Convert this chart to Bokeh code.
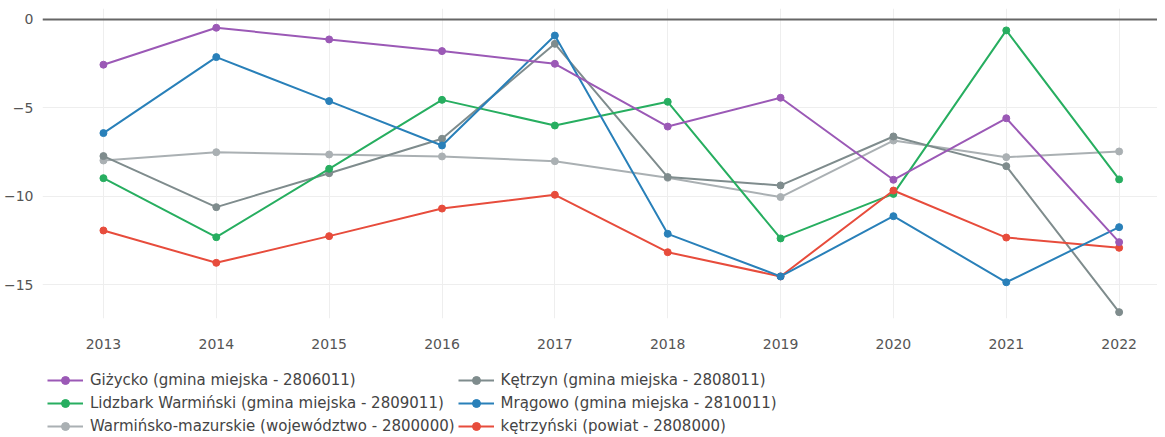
from bokeh.plotting import figure
from bokeh.models import Legend, LegendItem, FixedTicker, Span
from bokeh.layouts import column
from bokeh.embed import file_html
from bokeh.resources import INLINE

years = [2013, 2014, 2015, 2016, 2017, 2018, 2019, 2020, 2021, 2022]

gizycko = [-2.56, -0.47, -1.13, -1.79, -2.51, -6.06, -4.43, -9.07, -5.59, -12.6]
ketrzyn = [-7.73, -10.62, -8.70, -6.75, -1.38, -8.92, -9.39, -6.62, -8.30, -16.56]
lidzbark = [-8.98, -12.32, -8.45, -4.55, -6.00, -4.66, -12.39, -9.87, -0.62, -9.05]
mragowo = [-6.43, -2.13, -4.62, -7.13, -0.91, -12.13, -14.54, -11.13, -14.87, -11.75]
woj = [-7.98, -7.51, -7.64, -7.75, -8.02, -8.96, -10.05, -6.85, -7.79, -7.47]
powiat = [-11.94, -13.77, -12.26, -10.70, -9.92, -13.17, -14.54, -9.68, -12.34, -12.92]

names = [
    "Giżycko (gmina miejska - 2806011)",
    "Kętrzyn (gmina miejska - 2808011)",
    "Lidzbark Warmiński (gmina miejska - 2809011)",
    "Mrągowo (gmina miejska - 2810011)",
    "Warmińsko-mazurskie (województwo - 2800000)",
    "kętrzyński (powiat - 2808000)",
]
series = [gizycko, ketrzyn, lidzbark, mragowo, woj, powiat]
colors = ["#9b59b6", "#7f8c8d", "#27ae60", "#2980b9", "#aab0b3", "#e74c3c"]
draw_order = [4, 1, 2, 5, 3, 0]
legend_order = [0, 2, 4, 1, 3, 5]  # column-major fill -> row-major look

y_ticks = [-15, -10, -5, 0]
y_labels = {-15: "\u221215", -10: "\u221210", -5: "\u22125", 0: "0"}

FONT = "DejaVu Sans"

p = figure(frame_width=1115, frame_height=310, output_backend="svg", toolbar_location=None,
           x_range=(2012.46, 2022.34), y_range=(-16.92, 0.62),
           min_border_left=34, min_border_right=0, min_border_top=8, min_border_bottom=0)
p.outline_line_color = None
p.background_fill_color = "white"

for i in draw_order:
    p.line(years, series[i], line_color=colors[i], line_width=2)
    p.scatter(years, series[i], fill_color=colors[i], line_color=colors[i], size=7)

p.add_layout(Span(location=0, dimension="width", line_color="#666666", line_width=2))

p.xaxis.ticker = FixedTicker(ticks=years)
p.yaxis.ticker = FixedTicker(ticks=y_ticks)
p.yaxis.major_label_overrides = y_labels
for ax in (p.xaxis, p.yaxis):
    ax.axis_line_color = None
    ax.major_tick_line_color = None
    ax.minor_tick_line_color = None
    ax.major_label_text_font = FONT
    ax.major_label_text_font_size = "14px"
    ax.major_label_text_color = "#555555"
p.xaxis.major_label_standoff = 14
p.yaxis.major_label_standoff = 3
p.xgrid.grid_line_color = "#eeeeee"
p.ygrid.grid_line_color = "#eeeeee"

# legend-only figure (same data, outside its visible range)
lf = figure(width=1149, height=85, output_backend="svg", toolbar_location=None,
            x_range=(0, 1), y_range=(0, 1), x_axis_type=None, y_axis_type=None,
            min_border=0)
lf.outline_line_color = None
lf.xgrid.visible = False
lf.ygrid.visible = False
rends = {}
for i in range(6):
    l = lf.line(years, series[i], line_color=colors[i], line_width=2)
    s = lf.scatter(years, series[i], fill_color=colors[i], line_color=colors[i], size=6)
    rends[i] = [l, s]

items = [LegendItem(label=names[i], renderers=rends[i]) for i in legend_order]
legend = Legend(items=items, ncols=2, location=(5, 0),
                label_text_font=FONT, label_text_font_size="15px",
                label_text_color="#444444", glyph_width=36, glyph_height=20,
                label_height=20, spacing=3, padding=0, margin=0,
                border_line_color=None, background_fill_alpha=0,
                label_standoff=7)
lf.add_layout(legend, "center")

layout = column(p, lf, spacing=0)
open("out.html", "w").write(file_html(layout, INLINE))
